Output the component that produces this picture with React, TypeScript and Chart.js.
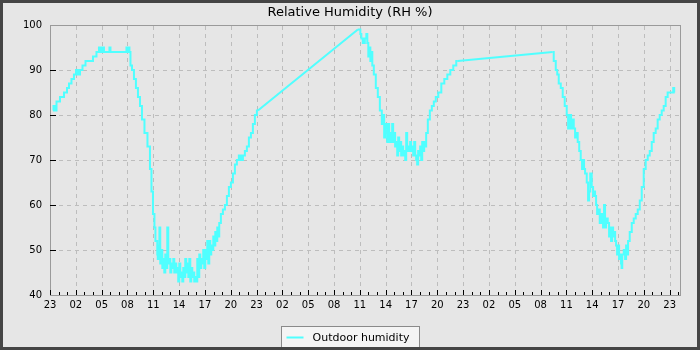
import React, { useEffect, useRef } from 'react';
import { Chart, registerables } from 'chart.js';

Chart.register(...registerables);

const chartTitle = 'Relative Humidity (RH %)';
const seriesLabel = 'Outdoor humidity';
const seriesColor = 'rgb(80,255,255)';

// x tick labels: one every 3 hours, starting at 23:00 (hour offset 0)
const xTickLabels = [
  '23', '02', '05', '08', '11', '14', '17', '20',
  '23', '02', '05', '08', '11', '14', '17', '20',
  '23', '02', '05', '08', '11', '14', '17', '20', '23',
];
const xMaxHours = 73.2;
const yMin = 40;
const yMax = 100;
const yStep = 10;
// samples further apart than this (hours) are joined by a straight line
const gapHours = 2;

// hours since the first 23:00
const hours = [
  0.35, 0.46, 0.58, 0.93, 1.39, 1.86, 2.09, 2.32, 2.67, 2.90, 3.14, 3.37, 3.60, 3.95, 4.30, 4.76,
  5.23, 5.57, 5.81, 6.04, 6.15, 6.39, 6.85, 6.97, 7.08, 8.83, 8.94, 9.06, 9.17, 9.29, 9.41, 9.64,
  9.87, 10.10, 10.34, 10.57, 10.80, 11.15, 11.50, 11.73, 11.85, 12.08, 12.19, 12.31,
  12.43, 12.50, 12.54, 12.66, 12.77, 12.85, 13.01, 13.09, 13.24, 13.32, 13.47, 13.55, 13.70, 13.78,
  13.94, 14.02, 14.17, 14.25, 14.40, 14.48, 14.63, 14.71, 14.86, 14.94, 15.10, 15.18, 15.33, 15.41,
  15.56, 15.64, 15.79, 15.87, 16.03, 16.11, 16.26, 16.34, 16.49, 16.57, 16.72, 16.80, 16.95, 17.03,
  17.19, 17.27, 17.42, 17.50, 17.65, 17.73, 17.88, 17.96, 18.12, 18.20, 18.35, 18.43, 18.58, 18.66,
  18.81, 18.89, 19.05, 19.13, 19.28, 19.36, 19.51, 19.59,
  19.74, 19.97, 20.21, 20.44, 20.67, 20.90, 21.14, 21.37, 21.60, 21.83, 22.06, 22.30, 22.53, 22.76,
  22.99, 23.23, 23.46, 23.69, 23.92, 24.16,
  35.77, 36.00, 36.12, 36.23, 36.46, 36.70, 36.81, 36.93, 37.04, 37.16, 37.28, 37.39, 37.51, 37.74,
  37.97, 38.21, 38.44, 38.67, 38.75, 38.90, 38.98, 39.14, 39.22, 39.37, 39.45, 39.60, 39.68, 39.83,
  39.91, 40.06, 40.14, 40.30, 40.38, 40.53, 40.61, 40.76, 40.84, 40.99, 41.07, 41.23, 41.31, 41.46,
  41.54, 41.69, 41.77, 41.92, 42.00, 42.16, 42.24, 42.39, 42.47, 42.62, 42.70, 42.85, 42.93, 43.09,
  43.17, 43.32, 43.40, 43.55, 43.63, 43.78, 44.02, 44.25, 44.48, 44.71, 44.94, 45.29, 45.64, 45.99,
  46.34, 46.68, 47.03, 47.38,
  58.41, 58.65, 58.88, 58.99, 59.23, 59.46, 59.69, 59.92, 60.16, 60.24, 60.39, 60.47, 60.62, 60.74,
  60.97, 61.05, 61.20, 61.43, 61.55, 61.78, 61.86, 62.01, 62.09, 62.25, 62.48, 62.56, 62.71, 62.83,
  63.06, 63.14, 63.29, 63.37, 63.53, 63.61, 63.76, 63.99, 64.07, 64.22, 64.30, 64.45, 64.53, 64.69,
  64.92, 65.00, 65.15, 65.23, 65.39, 65.47, 65.62, 65.70, 65.85, 65.93, 66.08, 66.16, 66.31, 66.39,
  66.43, 66.55, 66.78, 66.86, 67.01, 67.09, 67.24, 67.48, 67.71, 67.94, 68.17, 68.41, 68.64, 68.87,
  69.10, 69.33, 69.57, 69.80, 70.03, 70.26, 70.49, 70.72, 70.96, 71.19, 71.42, 71.65, 71.88, 72.12,
  72.35, 72.47, 72.58,
];

const humidity = [
  81, 82, 81, 83, 84, 85, 86, 87, 88, 89, 90, 89, 90, 91, 92, 92,
  93, 94, 95, 94, 95, 94, 94, 95, 94, 94, 95, 94, 95, 94, 91, 90,
  88, 86, 84, 82, 79, 76, 73, 68, 63, 58, 55, 52,
  52, 49, 48, 51, 55, 47, 50, 46, 48, 45, 49, 46, 55, 47,
  48, 45, 47, 46, 48, 45, 47, 45, 46, 43, 47, 44, 45, 43,
  46, 44, 48, 45, 47, 44, 48, 43, 46, 44, 45, 43, 44, 43,
  48, 44, 49, 46, 48, 47, 50, 46, 50, 48, 52, 47, 52, 49,
  51, 50, 53, 51, 54, 52, 55, 53,
  56, 58, 59, 60, 62, 64, 65, 67, 69, 70, 71, 70, 71, 72,
  73, 75, 76, 78, 80, 81,
  99, 99, 98, 97, 96, 97, 98, 96, 93, 95, 92, 94, 91, 89,
  86, 84, 81, 78, 80, 75, 78, 77, 74, 78, 74, 76, 74, 78,
  74, 76, 73, 74, 71, 75, 72, 74, 71, 73, 71, 72, 70, 76,
  72, 73, 72, 74, 72, 73, 71, 74, 71, 70, 69, 72, 71, 73,
  70, 74, 72, 74, 73, 76, 79, 81, 82, 83, 84, 85, 87, 88,
  89, 90, 91, 92,
  94, 92, 90, 89, 87, 86, 84, 82, 80, 77, 78, 80, 77, 79,
  77, 75, 76, 74, 72, 70, 68, 70, 68, 67, 65, 61, 63, 67,
  64, 62, 63, 62, 60, 58, 59, 56, 58, 57, 55, 60, 55, 57,
  56, 53, 55, 52, 55, 53, 54, 52, 51, 49, 51, 48, 49, 47,
  46, 49, 50, 48, 51, 49, 52, 54, 56, 57, 58, 59, 61, 64,
  68, 70, 71, 72, 74, 76, 77, 79, 80, 81, 82, 84, 85, 85,
  85, 86, 85,
];

const FONT = '"DejaVu Sans", "Liberation Sans", sans-serif';

export default function App() {
  const canvasRef = useRef<HTMLCanvasElement | null>(null);

  useEffect(() => {
    const canvas = canvasRef.current;
    if (!canvas) return;

    const points = hours.map((h, i) => ({ x: h, y: humidity[i] }));
    // straight joins across gaps in the record
    const gapPoints: any[] = [];
    for (let i = 1; i < points.length; i++) {
      if (points[i].x - points[i - 1].x > gapHours) {
        gapPoints.push(points[i - 1], points[i], { x: (points[i].x + points[i - 1].x) / 2, y: null });
      }
    }

    const framePlugin = {
      id: 'framePlugin',
      beforeDraw(chart: any) {
        const { ctx, width, height } = chart;
        ctx.save();
        ctx.fillStyle = '#e6e6e6';
        ctx.fillRect(0, 0, width, height);
        ctx.restore();
      },
      beforeDatasetsDraw(chart: any) {
        const { ctx, chartArea: a, scales } = chart;
        const xs = scales.x;
        const ys = scales.y;
        ctx.save();
        ctx.lineWidth = 1;
        ctx.strokeStyle = '#bdbdbd';
        ctx.setLineDash([4, 4]);
        xs.ticks.forEach((t: any) => {
          const px = Math.round(xs.getPixelForValue(t.value)) + 0.5;
          if (px <= a.left + 1) return;
          ctx.beginPath();
          ctx.moveTo(px, a.top + 1);
          ctx.lineTo(px, a.bottom);
          ctx.stroke();
        });
        ys.ticks.forEach((t: any) => {
          if (t.value <= yMin || t.value >= yMax) return;
          const py = Math.round(ys.getPixelForValue(t.value)) + 0.5;
          ctx.beginPath();
          ctx.moveTo(a.left + 1, py);
          ctx.lineTo(a.right, py);
          ctx.stroke();
        });
        ctx.setLineDash([]);
        // frame
        ctx.strokeStyle = '#9a9a9a';
        ctx.strokeRect(Math.round(a.left) + 0.5, Math.round(a.top) + 0.5,
          Math.round(a.right - a.left), Math.round(a.bottom - a.top));
        // tick marks
        ctx.strokeStyle = '#000';
        const bottom = Math.round(a.bottom);
        const first = xs.ticks.length ? xs.ticks[0].value : 0;
        for (let h = Math.ceil(xs.min); h <= Math.floor(xs.max); h++) {
          const px = Math.round(xs.getPixelForValue(h)) + 0.5;
          const major = ((h - first) % 3) === 0;
          const len = major ? 5 : 3;
          ctx.beginPath();
          ctx.moveTo(px, bottom);
          ctx.lineTo(px, bottom - len);
          ctx.stroke();
        }
        ys.ticks.forEach((t: any) => {
          if (t.value <= yMin || t.value >= yMax) return;
          const py = Math.round(ys.getPixelForValue(t.value)) + 0.5;
          ctx.beginPath();
          ctx.moveTo(Math.round(a.left), py);
          ctx.lineTo(Math.round(a.left) + 6, py);
          ctx.stroke();
        });
        ctx.restore();
      },
      afterDraw(chart: any) {
        const { ctx, width, height } = chart;
        ctx.save();
        // title
        ctx.fillStyle = '#000';
        ctx.font = `13px ${FONT}`;
        ctx.textAlign = 'center';
        ctx.textBaseline = 'alphabetic';
        ctx.fillText(chartTitle, width / 2, 16);

        // legend box
        ctx.font = `11px ${FONT}`;
        const tw = ctx.measureText(seriesLabel).width;
        const boxW = Math.round(5 + 17 + 9 + tw + 10);
        const boxX = Math.round(width / 2 - boxW / 2) + 0.5;
        const boxY = 326.5;
        ctx.fillStyle = '#f4f4f4';
        ctx.fillRect(boxX, boxY, boxW, height - boxY);
        ctx.strokeStyle = '#8a8a8a';
        ctx.lineWidth = 1;
        ctx.strokeRect(boxX, boxY, boxW, height - boxY + 5);
        ctx.strokeStyle = seriesColor;
        ctx.lineWidth = 2;
        ctx.beginPath();
        ctx.moveTo(boxX + 5, 337.5);
        ctx.lineTo(boxX + 22, 337.5);
        ctx.stroke();
        ctx.fillStyle = '#000';
        ctx.textAlign = 'left';
        ctx.fillText(seriesLabel, boxX + 31, 341);

        // outer border
        ctx.strokeStyle = '#454545';
        ctx.lineWidth = 3;
        ctx.strokeRect(1.5, 1.5, width - 3, height - 3);
        ctx.restore();
      },
    };

    const chart = new Chart(canvas, {
      type: 'line',
      data: {
        datasets: [
          {
            label: seriesLabel,
            data: points,
            borderColor: seriesColor,
            backgroundColor: seriesColor,
            borderWidth: 2,
            pointRadius: 0,
            stepped: 'middle',
            fill: false,
            segment: {
              borderColor: (c: any) =>
                c.p1.parsed.x - c.p0.parsed.x > gapHours ? 'rgba(0,0,0,0)' : seriesColor,
            },
          },
          {
            label: seriesLabel + ' (gap)',
            data: gapPoints,
            borderColor: seriesColor,
            backgroundColor: seriesColor,
            borderWidth: 2,
            pointRadius: 0,
            tension: 0,
            spanGaps: false,
            fill: false,
          },
        ],
      },
      options: {
        animation: false,
        responsive: false,
        devicePixelRatio: 1,
        parsing: false,
        layout: { padding: { top: 25, right: 20, bottom: 0, left: 0 } },
        plugins: {
          legend: { display: false },
          title: { display: false },
          tooltip: { enabled: false },
        },
        scales: {
          x: {
            type: 'linear',
            min: 0,
            max: xMaxHours,
            grid: { display: false, drawTicks: false },
            border: { display: false },
            ticks: {
              stepSize: 3,
              includeBounds: false,
              autoSkip: false,
              maxRotation: 0,
              padding: 4,
              color: '#000',
              font: { family: FONT, size: 10 },
              callback: (_v: any, i: number) => xTickLabels[i] ?? '',
            },
            afterFit: (s: any) => { s.height = 55; },
          },
          y: {
            min: yMin,
            max: yMax,
            grid: { display: false, drawTicks: false },
            border: { display: false },
            ticks: {
              stepSize: yStep,
              padding: 8,
              color: '#000',
              font: { family: FONT, size: 10 },
            },
            afterFit: (s: any) => { s.width = 50; },
          },
        },
      },
      plugins: [framePlugin],
    });

    return () => chart.destroy();
  }, []);

  return (
    <div style={{ position: 'fixed', left: 0, top: 0, width: 700, height: 350 }}>
      <canvas ref={canvasRef} width={700} height={350} style={{ width: 700, height: 350, display: 'block' }} />
    </div>
  );
}
